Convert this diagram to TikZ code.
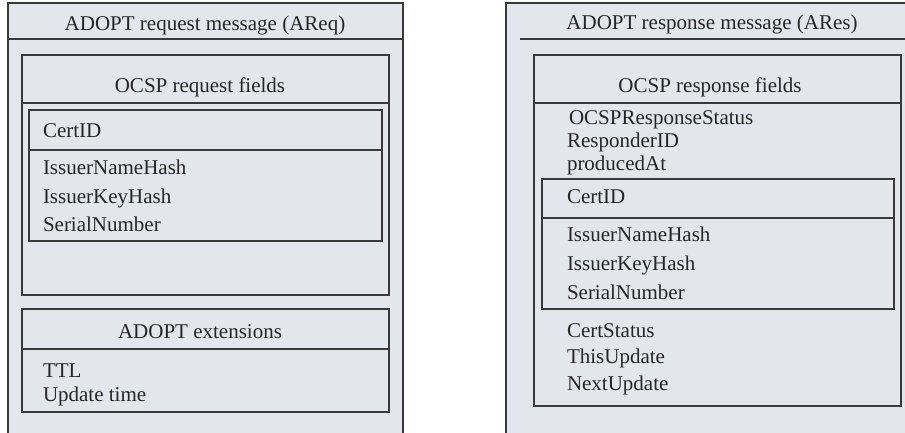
\documentclass[tikz,border=0pt]{standalone}
\usepackage{fontspec}
\setmainfont{Liberation Serif}
\definecolor{boxfill}{RGB}{227,230,235}
\definecolor{boxline}{RGB}{58,58,58}
\begin{document}
\begin{tikzpicture}[x=1pt,y=-1pt,
  every node/.style={inner sep=0pt,outer sep=0pt,font=\fontsize{21}{25}\selectfont,text=black!85},
  field/.style={anchor=base west},
  heading/.style={anchor=base},
  frame/.style={draw=boxline,line width=1.2pt,fill=boxfill},
  rule/.style={draw=boxline,line width=1.2pt}]
\useasboundingbox (0,0) rectangle (905,433);
% ---------- left: request ----------
\draw[frame] (8,445) -- (8,3) -- (403,3) -- (403,445);
\draw[rule] (8,39) -- (403,39);
\node[heading] (reqtitle) at (205,30.5) {ADOPT request message (AReq)};
\draw[frame] (22,55) rectangle (389,295);
\draw[rule] (22,103) -- (389,103);
\node[heading] (reqocsp) at (200,93) {OCSP request fields};
\draw[frame] (29,110) rectangle (382,241);
\draw[rule] (29,150) -- (382,150);
\node[field] (lcert) at (43,138) {CertID};
\node[field] (lname) at (43,175) {IssuerNameHash};
\node[field] (lkey) at (43,203) {IssuerKeyHash};
\node[field] (lser) at (43,231) {SerialNumber};
\draw[frame] (22,309) rectangle (389,412);
\draw[rule] (22,349) -- (389,349);
\node[heading] (ext) at (200,338) {ADOPT extensions};
\node[field] (ttl) at (43,377) {TTL};
\node[field] (upd) at (43,401) {Update time};
% ---------- right: response ----------
\draw[frame] (506,445) -- (506,3) -- (912,3) -- (912,445);
\draw[rule] (520,39) -- (912,39);
\node[heading] (restitle) at (712,30) {ADOPT response message (ARes)};
\draw[frame] (534,55) rectangle (901,406);
\draw[rule] (534,103) -- (901,103);
\node[heading] (resocsp) at (710,93) {OCSP response fields};
\node[field] (rstat) at (569,125) {OCSPResponseStatus};
\node[field] (rresp) at (567,148) {ResponderID};
\node[field] (rprod) at (567,171) {producedAt};
\draw[frame] (542,179) rectangle (894,309);
\draw[rule] (542,218) -- (894,218);
\node[field] (rcert) at (567,204) {CertID};
\node[field] (rname) at (567,241) {IssuerNameHash};
\node[field] (rkey) at (567,270) {IssuerKeyHash};
\node[field] (rser) at (567,299) {SerialNumber};
\node[field] (rcst) at (567,337) {CertStatus};
\node[field] (rthis) at (567,363) {ThisUpdate};
\node[field] (rnext) at (567,390) {NextUpdate};
\end{tikzpicture}
\end{document}
